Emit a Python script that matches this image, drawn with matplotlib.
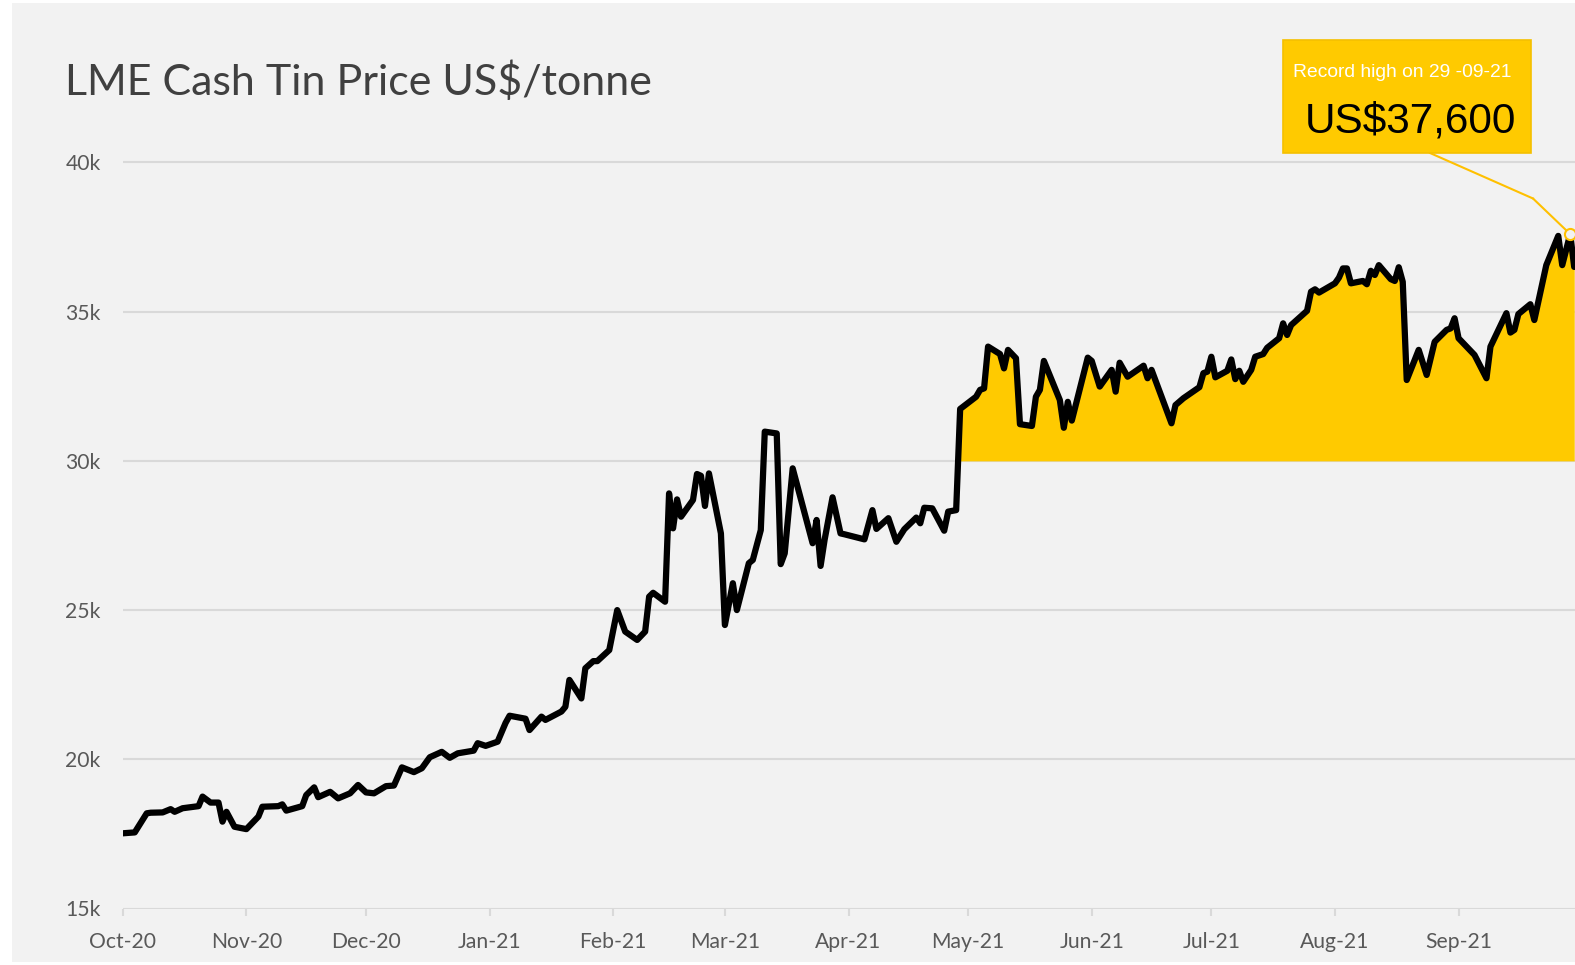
import matplotlib
matplotlib.use("Agg")
import matplotlib.pyplot as plt
import matplotlib.dates as mdates
from matplotlib.patches import Rectangle
from matplotlib.lines import Line2D
import numpy as np
import pandas as pd

# ---------------- data ----------------
start_date = "2020-10-01"
days = [0,3,6,7,10,12,13,15,19,20,
        22,24,25,26,28,31,34,35,39,40,
        41,45,46,48,49,52,54,57,59,61,
        63,66,68,70,73,75,77,80,82,84,
        88,89,91,94,96,97,101,102,105,106,
        110,111,112,115,116,118,119,122,124,126,
        129,131,132,133,136,137,138,139,140,143,
        144,145,146,147,150,151,153,154,157,158,
        160,161,164,165,166,168,173,174,175,176,
        178,180,181,186,188,189,192,194,196,199,
        200,201,203,206,207,209,210,214,215,216,
        217,220,221,222,224,225,228,229,230,231,
        235,236,237,238,242,243,245,248,249,250,
        252,256,257,258,263,264,266,270,271,272,
        273,274,277,278,279,280,281,283,284,286,
        287,290,291,292,293,297,298,299,300,304,
        305,306,307,308,311,312,313,314,315,318,
        319,320,321,322,325,327,329,332,333,334,
        335,339,342,343,347,348,349,350,353,354,
        357,360,361,363,364]
prices = [17520,17550,18190,18210,18220,18330,18240,18360,18430,18750,
          18550,18550,17910,18240,17740,17660,18080,18410,18430,18490,
          18280,18430,18800,19060,18730,18910,18690,18860,19140,18890,
          18860,19100,19120,19730,19570,19700,20070,20250,20050,20200,
          20290,20540,20450,20590,21220,21460,21360,20980,21430,21320,
          21600,21760,22660,22040,23050,23290,23290,23660,25000,24280,
          24000,24280,25450,25580,25280,28910,27740,28710,28130,28690,
          29560,29500,28490,29580,27570,24500,25900,25000,26570,26680,
          27680,30980,30920,26540,26900,29750,27240,28020,26480,27350,
          28780,27570,27540,27370,28350,27720,28080,27290,27710,28100,
          27910,28430,28410,27660,28300,28350,31740,32150,32380,32430,
          33830,33580,33100,33720,33440,31230,31170,32150,32380,33350,
          32040,31110,31980,31350,33460,33350,32490,33050,32320,33290,
          32820,33190,32770,33050,31260,31870,32100,32470,32940,32990,
          33490,32800,33020,33400,32740,33020,32650,33050,33490,33580,
          33790,34110,34610,34220,34550,35030,35670,35750,35640,35950,
          36140,36450,36450,35950,36030,35920,36370,36230,36560,36090,
          36030,36490,36000,32710,33720,32880,33990,34390,34440,34780,
          34110,33550,32770,33830,34950,34300,34390,34920,35250,34720,
          36560,37540,36560,37600,36500]
fill_from_day = 210
fill_base = 30000
yticks = [15000, 20000, 25000, 30000, 35000, 40000]
ytick_labels = ["15k", "20k", "25k", "30k", "35k", "40k"]
month_starts = ["2020-10-01", "2020-11-01", "2020-12-01", "2021-01-01",
                "2021-02-01", "2021-03-01", "2021-04-01", "2021-05-01",
                "2021-06-01", "2021-07-01", "2021-08-01", "2021-09-01"]
month_labels = ["Oct-20", "Nov-20", "Dec-20", "Jan-21", "Feb-21", "Mar-21",
                "Apr-21", "May-21", "Jun-21", "Jul-21", "Aug-21", "Sep-21"]
title = "LME Cash Tin Price US$/tonne"
note_small = "Record high on 29 -09-21"
note_big = "US$37,600"
record_day = 363
record_value = 37600

# ---------------- figure ----------------
W, H = 1575, 965
fig = plt.figure(figsize=(W / 100, H / 100), dpi=100, facecolor="white")

def fx(px):
    return px / W

def fy(py):
    return 1 - py / H

# grey panel background
fig.patches.append(Rectangle((fx(12), fy(962)), fx(W) - fx(12), fy(3) - fy(962),
                             transform=fig.transFigure, facecolor="#F2F2F2",
                             edgecolor="none", zorder=-10))

ax_left, ax_bottom_px, ax_top_px = 122.8, 908.5, 102.8
ax = fig.add_axes([fx(ax_left), fy(ax_bottom_px), 1 - fx(ax_left),
                   fy(ax_top_px) - fy(ax_bottom_px)])
ax.patch.set_visible(False)

start = pd.Timestamp(start_date)
dates = [start + pd.Timedelta(days=d) for d in days]
dnum = mdates.date2num(dates)
p = np.array(prices, dtype=float)

mask = np.array(days) >= fill_from_day
ax.fill_between(dnum[mask], fill_base, p[mask], color="#FFCA00", lw=0, zorder=2)
ax.plot(dnum, p, color="black", lw=4.5, solid_joinstyle="round",
        solid_capstyle="round", zorder=3)

ax.set_ylim(15000, 42000)
ax.set_xlim(mdates.date2num(start), mdates.date2num(start + pd.Timedelta(days=364.2)))

ax.set_yticks(yticks)
ax.set_yticklabels(ytick_labels)
ax.set_xticks(mdates.date2num(pd.to_datetime(month_starts)))
ax.set_xticklabels(month_labels)

ax.grid(axis="y", color="#D9D9D9", lw=1.5, zorder=0)
ax.grid(axis="x", visible=False)
for s in ax.spines.values():
    s.set_visible(False)

for lab in ax.get_xticklabels() + ax.get_yticklabels():
    lab.set_fontfamily(["Lato", "DejaVu Sans"])
    lab.set_fontsize(15.2)
    lab.set_color("#595959")
ax.tick_params(axis="y", length=0, pad=16)
ax.tick_params(axis="x", length=5, width=1.5, color="#D9D9D9", pad=12)

# title
fig.text(fx(65), fy(95), title, family=["Lato", "DejaVu Sans"], size=31,
         color="#404040", va="baseline", ha="left")

# annotation box
bx0, bx1, by0, by1 = 1283, 1531, 40.5, 152.7
fig.patches.append(Rectangle((fx(bx0), fy(by1)), fx(bx1) - fx(bx0), fy(by0) - fy(by1),
                             transform=fig.transFigure, facecolor="#FFCA00",
                             edgecolor="#F5C000", lw=1.2, zorder=5))
fig.text(fx(1293), fy(77), note_small, family=["Liberation Sans", "DejaVu Sans"],
         size=13.9, color="white", va="baseline", ha="left", zorder=6)
fig.text(fx(1305), fy(132), note_big, family=["Liberation Sans", "DejaVu Sans"],
         size=30.5, color="black", va="baseline", ha="left", zorder=6)

# connector
elbow = (fx(1533), fy(198.5))
fig.add_artist(Line2D([fx(1430), elbow[0]], [fy(153), elbow[1]],
                      transform=fig.transFigure, color="#FFC000", lw=1.5, zorder=4))
rec_x = mdates.date2num(start + pd.Timedelta(days=record_day))
ax.annotate("", xy=(rec_x, record_value), xycoords="data",
            xytext=elbow, textcoords="figure fraction",
            arrowprops=dict(arrowstyle="-", color="#FFC000", lw=1.5,
                            shrinkA=0, shrinkB=4), zorder=4)
ax.plot([rec_x], [record_value], marker="o", ms=8, mfc="#F2F2F2", mec="#FFC000",
        mew=1.5, zorder=5, clip_on=False)

fig.savefig("out.png", dpi=100, facecolor="white")
